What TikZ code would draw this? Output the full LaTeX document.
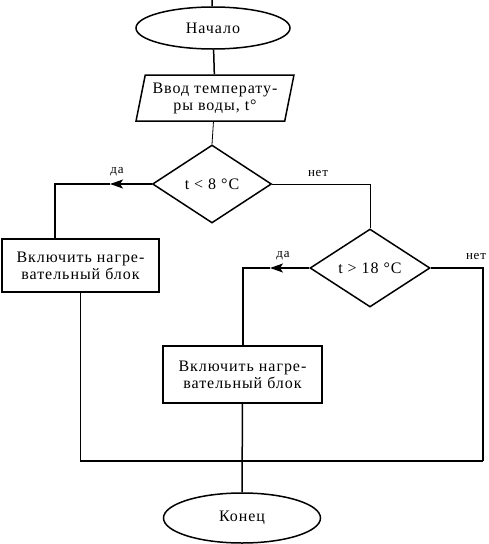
\documentclass[tikz,border=0pt]{standalone}
\usepackage{fontspec}
\setmainfont{Liberation Serif}
\usetikzlibrary{arrows.meta, shapes.geometric}

\begin{document}
\begin{tikzpicture}[x=1pt, y=-1pt,
      txt/.style={font=\fontsize{16}{17}\selectfont\addfontfeatures{LetterSpace=6}},
      term/.style={draw, ellipse, line width=1.5pt, inner sep=0pt, txt},
      io/.style={draw, trapezium, trapezium left angle=75, trapezium right angle=105,
                 trapezium stretches=true, line width=1.5pt, inner sep=0pt, align=center, txt},
      proc/.style={draw, rectangle, line width=1.5pt, inner sep=0pt, align=center, txt},
      cond/.style={draw, diamond, aspect=1.5, line width=1.5pt, inner sep=0pt, txt},
      thin line/.style={line width=0.8pt},
      thick line/.style={line width=1.5pt},
      yesarrow/.style={thick line, -{Stealth[length=13pt, width=9pt, inset=3pt]}},
      lbl/.style={font=\fontsize{13}{15}\selectfont\addfontfeatures{LetterSpace=6}}]
    \useasboundingbox (0,0) rectangle (489,544);
    \node[term, minimum width=154pt, minimum height=42pt] (start) at (213,28) {Начало};
    \node[io, minimum width=158pt, minimum height=46pt] (input) at (215,98) {Ввод температу-\\ры воды, t°};
    \node[cond, minimum width=119pt, minimum height=78pt] (if1) at (212,184) {t < 8 °C};
    \node[proc, minimum width=157pt, minimum height=53pt] (heat1) at (80.5,265.5) {Включить нагре-\\вательный блок};
    \node[cond, minimum width=120pt, minimum height=78pt] (if2) at (370,268) {t > 18 °C};
    \node[proc, minimum width=159pt, minimum height=57pt] (heat2) at (242.5,374.5) {Включить нагре-\\вательный блок};
    \node[term, minimum width=157pt, minimum height=50pt] (stop) at (242,518) {Конец};

    % corners of the connectors
    \coordinate (top) at (212,0);
    \coordinate (tip1) at (110,184);
    \coordinate (yes1) at (55,184);
    \coordinate (no1) at (370,184);
    \coordinate (tip2) at (270,268);
    \coordinate (yes2) at (243,268);
    \coordinate (no2) at (483,268);
    \coordinate (join1) at (80,461);
    \coordinate (join2) at (483,461);

    \draw[thick line] (top) -- (start);
    \draw[thick line] (start) -- (input);
    \draw[thin line] (input) -- (if1.north);
    \draw[yesarrow] (if1.west) -- (tip1);
    \draw[thick line] (tip1) -- (yes1) -- (heat1.north -| yes1);
    \draw[thin line] (if1.east) -- (no1) -- (if2.north);
    \draw[yesarrow] (if2.west) -- (tip2);
    \draw[thick line] (tip2) -- (yes2) -- (heat2.north -| yes2);
    \draw[thick line] (if2.east) -- (no2) -- (join2);
    \draw[thin line] (heat1.south -| join1) -- (join1);
    \draw[thick line] (join1) -- (join2);
    \draw[thick line] (heat2) -- (stop);

    \node[lbl] at (117,172) {да};
    \node[lbl] at (318,173) {нет};
    \node[lbl] at (283,256) {да};
    \node[lbl] at (476,256) {нет};
  \end{tikzpicture}
\end{document}
